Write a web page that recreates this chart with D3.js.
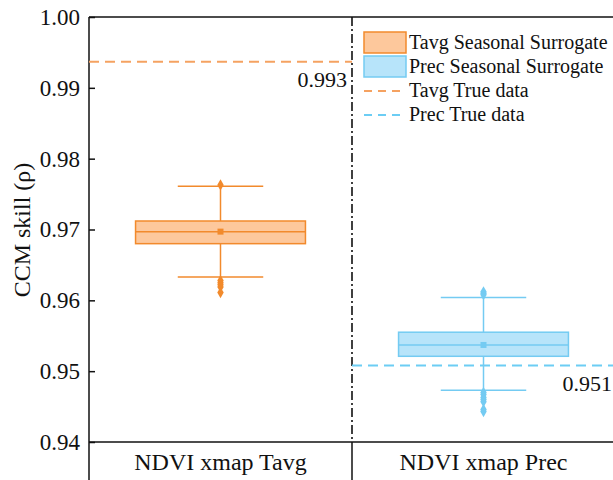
<!DOCTYPE html>
<html>
<head>
<meta charset="utf-8">
<script src="https://cdn.jsdelivr.net/npm/d3@7"></script>
<style>
  body { margin: 0; background: #fff; }
  svg text { font-family: "Liberation Serif", "Times New Roman", serif !important; fill: #111; }
</style>
</head>
<body>
<svg width="613" height="480"></svg>
<script>
const categories = ["NDVI xmap Tavg", "NDVI xmap Prec"];
const seriesNames = ["Tavg Seasonal Surrogate", "Prec Seasonal Surrogate"];
const trueNames = ["Tavg True data", "Prec True data"];
const q1 = [0.9680, 0.9521];
const median = [0.9697, 0.9537];
const q3 = [0.9712, 0.9555];
const mean = [0.9697, 0.9537];
const whiskerLow = [0.9633, 0.9473];
const whiskerHigh = [0.9761, 0.9604];
const outliers = [
  [0.9763, 0.9628, 0.9625, 0.9622, 0.9619, 0.9611],
  [0.9612, 0.9610, 0.9608, 0.9470, 0.9467, 0.9463, 0.9460, 0.9457, 0.9446, 0.9443]
];
const trueData = [0.9937, 0.9508];
const trueLabels = ["0.993", "0.951"];
const yTicks = [0.94, 0.95, 0.96, 0.97, 0.98, 0.99, 1.00];

const strokeColors = ["#f28a2c", "#74cbf2"];
const fillColors = ["#fdc89c", "#b7e4fa"];
const dashColors = ["#f5a261", "#6ccdf4"];
const serif = '"Liberation Serif", "Times New Roman", serif';

const svg = d3.select("svg");
const mLeft = 89, mTop = 17, mBottom = 442, mRight = 615;

const y = d3.scaleLinear().domain([0.94, 1.0]).range([mBottom, mTop]);
const x = d3.scaleBand().domain(categories).range([mLeft, mRight]);
const bw = x.bandwidth();
const boxW = bw * 0.646;
const capW = bw * 0.325;

// y axis, ticks pointing inward
const yAxis = d3.axisLeft(y).tickValues(yTicks).tickFormat(d3.format(".2f")).tickSize(-6).tickPadding(9);
const gy = svg.append("g").attr("transform", `translate(${mLeft},0)`).call(yAxis)
  .attr("font-family", serif);
gy.select(".domain").remove();
gy.selectAll(".tick line").attr("stroke", "#111").attr("stroke-width", 1.5);
gy.selectAll(".tick text").style("font-size", "23px").style("font-family", serif).attr("fill", "#111");

// frame
svg.append("line").attr("x1", mLeft).attr("x2", mLeft).attr("y1", mTop).attr("y2", 480)
  .attr("stroke", "#111").attr("stroke-width", 1.5);
svg.append("line").attr("x1", mLeft).attr("x2", 613).attr("y1", mTop).attr("y2", mTop)
  .attr("stroke", "#111").attr("stroke-width", 1.5);
svg.append("line").attr("x1", mLeft).attr("x2", 613).attr("y1", mBottom).attr("y2", mBottom)
  .attr("stroke", "#111").attr("stroke-width", 1.5);

// divider between categories
const divX = x(categories[1]);
svg.append("line").attr("x1", divX).attr("x2", divX).attr("y1", mTop).attr("y2", mBottom)
  .attr("stroke", "#111").attr("stroke-width", 1.6).attr("stroke-dasharray", "9,3,2,3");
svg.append("line").attr("x1", divX).attr("x2", divX).attr("y1", mBottom).attr("y2", 480)
  .attr("stroke", "#111").attr("stroke-width", 1.5);

// category labels
svg.selectAll(".cat").data(categories).enter().append("text")
  .attr("x", d => x(d) + bw / 2).attr("y", 470)
  .attr("text-anchor", "middle").style("font-size", "24px").text(d => d);

// y label
svg.append("text").attr("transform", "translate(30,230) rotate(-90)")
  .attr("text-anchor", "middle").style("font-size", "24px").text("CCM skill (ρ)");

// true data lines
trueData.forEach((v, i) => {
  const x0 = x(categories[i]);
  svg.append("line").attr("x1", x0).attr("x2", Math.min(x0 + bw, 613))
    .attr("y1", y(v)).attr("y2", y(v))
    .attr("stroke", dashColors[i]).attr("stroke-width", 2).attr("stroke-dasharray", "10,6");
});
svg.append("text").attr("x", divX - 5).attr("y", y(trueData[0]) + 25)
  .attr("text-anchor", "end").style("font-size", "22px").text(trueLabels[0]);
svg.append("text").attr("x", 612).attr("y", y(trueData[1]) + 25)
  .attr("text-anchor", "end").style("font-size", "22px").text(trueLabels[1]);

// boxes
categories.forEach((c, i) => {
  const cx = x(c) + bw / 2;
  const g = svg.append("g");
  const sc = strokeColors[i];
  g.append("line").attr("x1", cx).attr("x2", cx).attr("y1", y(whiskerHigh[i])).attr("y2", y(q3[i]))
    .attr("stroke", sc).attr("stroke-width", 1.5);
  g.append("line").attr("x1", cx).attr("x2", cx).attr("y1", y(q1[i])).attr("y2", y(whiskerLow[i]))
    .attr("stroke", sc).attr("stroke-width", 1.5);
  [whiskerHigh[i], whiskerLow[i]].forEach(v => {
    g.append("line").attr("x1", cx - capW / 2).attr("x2", cx + capW / 2)
      .attr("y1", y(v)).attr("y2", y(v)).attr("stroke", sc).attr("stroke-width", 1.5);
  });
  g.append("rect").attr("x", cx - boxW / 2).attr("width", boxW)
    .attr("y", y(q3[i])).attr("height", y(q1[i]) - y(q3[i]))
    .attr("fill", fillColors[i]).attr("stroke", sc).attr("stroke-width", 1.5);
  g.append("line").attr("x1", cx - boxW / 2).attr("x2", cx + boxW / 2)
    .attr("y1", y(median[i])).attr("y2", y(median[i])).attr("stroke", sc).attr("stroke-width", 1.5);
  g.append("rect").attr("x", cx - 3).attr("y", y(mean[i]) - 3).attr("width", 6).attr("height", 6).attr("fill", sc);
  g.selectAll(".out").data(outliers[i]).enter().append("path")
    .attr("d", d3.symbol(d3.symbolDiamond, 36))
    .attr("transform", d => `translate(${cx},${y(d)})`)
    .attr("fill", sc);
});

// legend
const lx = 364, ly = 32;
seriesNames.forEach((n, i) => {
  svg.append("rect").attr("x", lx).attr("y", ly + i * 24).attr("width", 42).attr("height", 21)
    .attr("fill", fillColors[i]).attr("stroke", strokeColors[i]).attr("stroke-width", 1.5);
  svg.append("text").attr("x", lx + 45).attr("y", ly + i * 24 + 17).style("font-size", "20px").text(n);
});
trueNames.forEach((n, i) => {
  const yy = ly + 59 + i * 24;
  svg.append("line").attr("x1", lx).attr("x2", lx + 42).attr("y1", yy).attr("y2", yy)
    .attr("stroke", dashColors[i]).attr("stroke-width", 2).attr("stroke-dasharray", "8,6");
  svg.append("text").attr("x", lx + 45).attr("y", yy + 6).style("font-size", "20px").text(n);
});
</script>
</body>
</html>
